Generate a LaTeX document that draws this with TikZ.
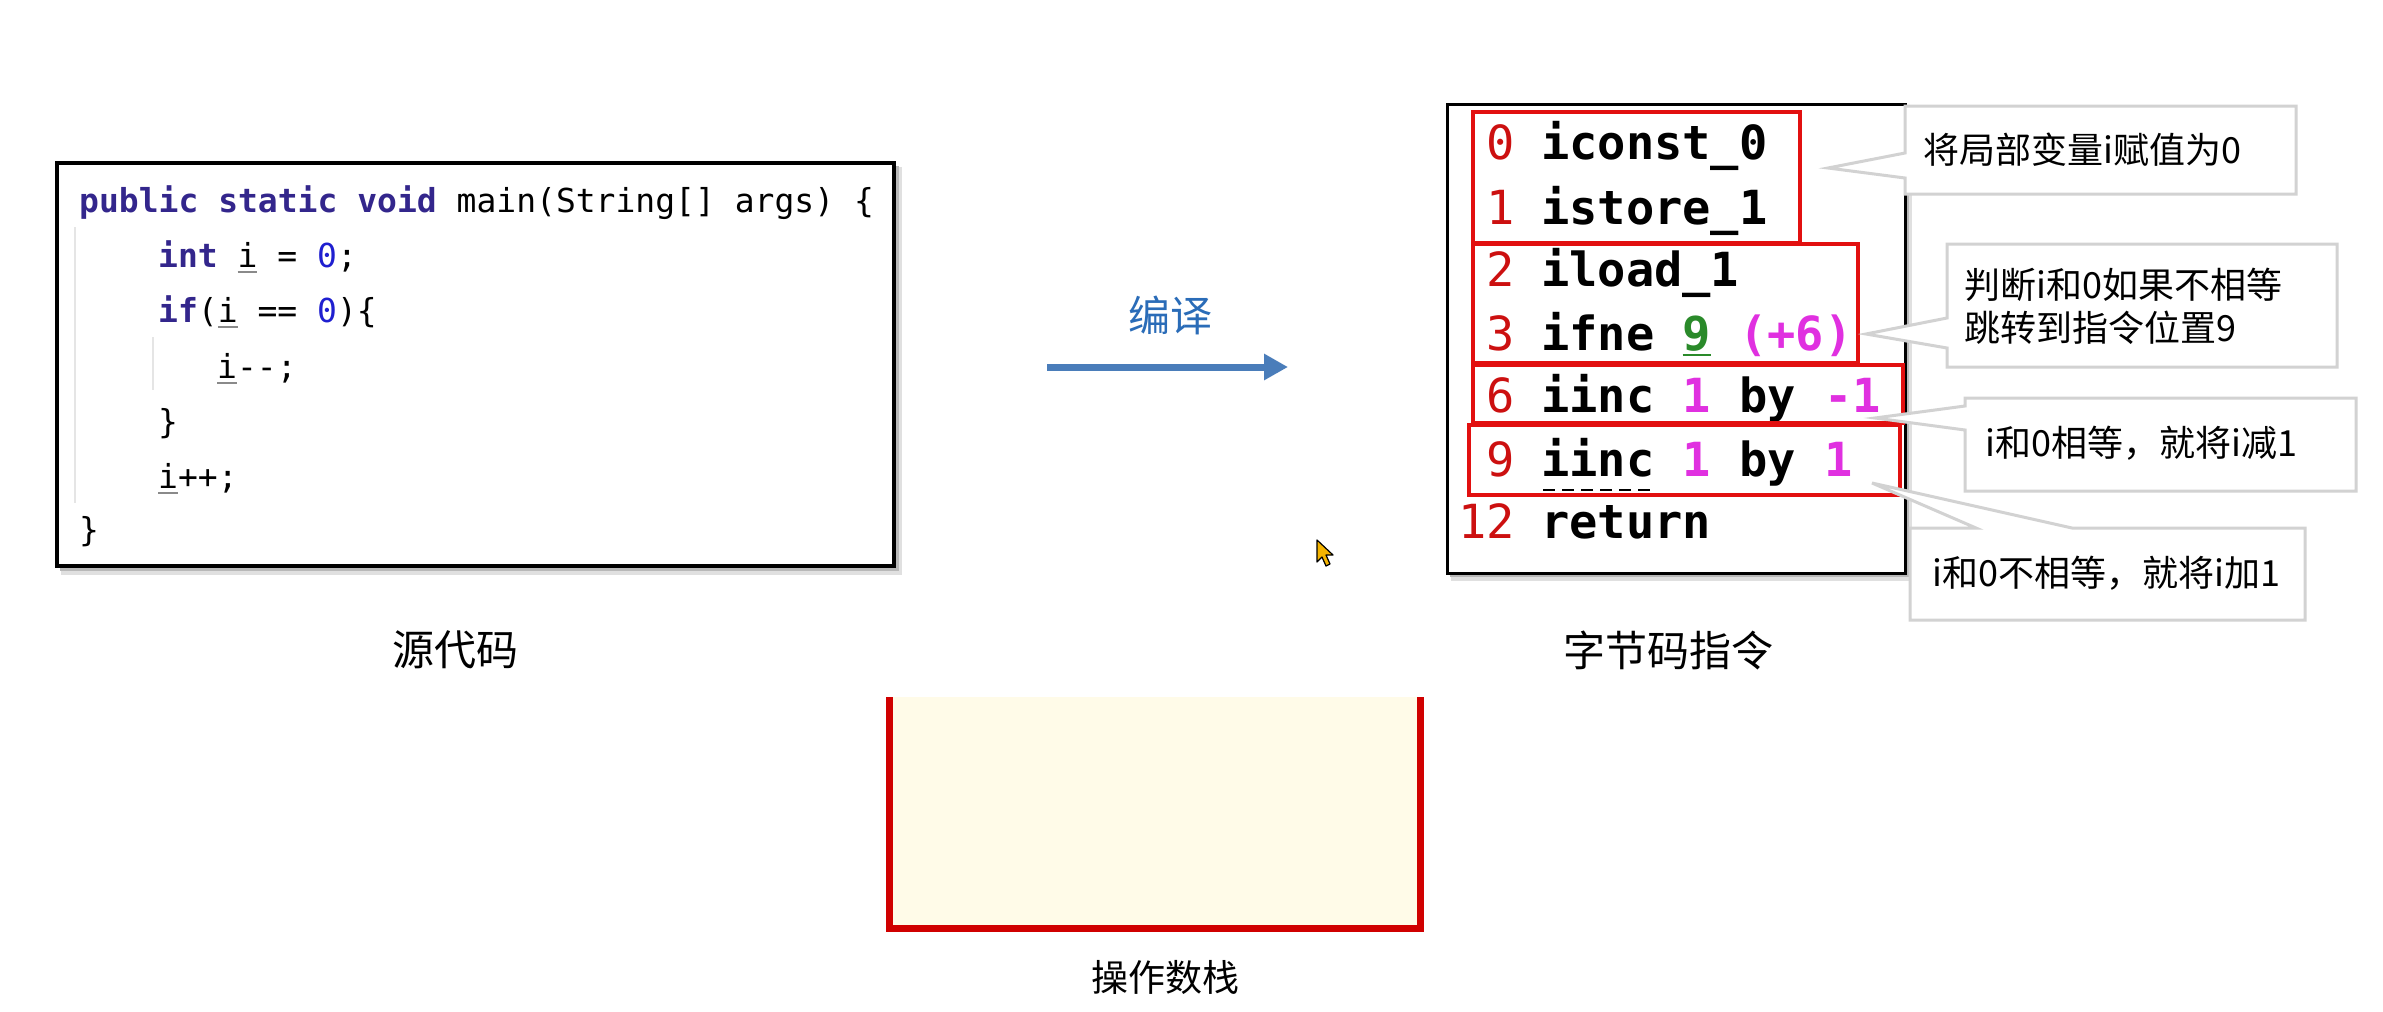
\documentclass[tikz,border=0pt]{standalone}
\usepackage{fontspec}
\setmainfont{Noto Sans CJK SC}
\newfontfamily\codefont{DejaVu Sans Mono}
\usetikzlibrary{arrows.meta}
\definecolor{kw}{HTML}{33268C}
\definecolor{numblue}{HTML}{1F1FD0}
\definecolor{bred}{HTML}{CC1010}
\definecolor{boxred}{HTML}{E21010}
\definecolor{mag}{HTML}{E030E0}
\definecolor{grn}{HTML}{2A8A2A}
\definecolor{callgray}{HTML}{D2D2D2}
\definecolor{arrowblue}{HTML}{4A7DBA}
\definecolor{txtblue}{HTML}{2A6CB8}
\definecolor{stackfill}{HTML}{FFFBE8}
\definecolor{stackred}{HTML}{D00000}
\definecolor{ulgray}{HTML}{8A8A8A}
\definecolor{cursoryellow}{HTML}{F5B400}
\newcommand\iu[1]{\makebox[0pt][l]{\textcolor{ulgray}{\rule[-6pt]{0.6em}{2pt}}}#1}
\newcommand\gu[1]{\makebox[0pt][l]{\textcolor{grn}{\rule[-6pt]{0.6em}{2.5pt}}}#1}
\begin{document}
\begin{tikzpicture}[x=1pt,y=-1pt,
  codeline/.style={anchor=base west, inner sep=0pt, font=\codefont\fontsize{33}{40}\selectfont},
  bcline/.style={anchor=base west, inner sep=0pt, font=\codefont\bfseries\fontsize{47}{56}\selectfont},
  bcnum/.style={anchor=base east, inner sep=0pt, text=bred, font=\codefont\fontsize{47}{56}\selectfont},
  calltext/.style={anchor=west, inner sep=0pt, align=left, font=\fontsize{36}{43}\selectfont},
  biglabel/.style={inner sep=0pt, font=\fontsize{42}{50}\selectfont},
  callout/.style={draw=callgray, line width=3pt, fill=white, line join=miter},
  redbox/.style={draw=boxred, line width=3.5pt},
  framebox/.style={draw=black, line width=3.5pt, fill=white},
  shadowA/.style={fill=black!12, draw=none},
  shadowB/.style={fill=black!28, draw=none},
  guide/.style={draw=black!10, line width=1.5pt}
]
\useasboundingbox (0,0) rectangle (2383,1012);
\fill[white] (0,0) rectangle (2383,1012);

% ---------- source code box ----------
\fill[shadowA] (61,167) rectangle (902,575);
\fill[shadowB] (60,166) rectangle (899,571);
\draw[framebox] (57,163) rectangle (894,566);
\draw[guide] (75,227) -- (75,503);
\draw[guide] (153,337) -- (153,390);
\node[codeline] (c1) at (79,212) {{\bfseries\color{kw}public static void} main(String[] args) \{};
\node[codeline] (c2) at (158,267) {{\bfseries\color{kw}int} \iu{i} = {\color{numblue}0};};
\node[codeline] (c3) at (158,322) {{\bfseries\color{kw}if}(\iu{i} == {\color{numblue}0})\{};
\node[codeline] (c4) at (217,378) {\iu{i}-{}-;};
\node[codeline] (c5) at (158,433) {\}};
\node[codeline] (c6) at (158,488) {\iu{i}++;};
\node[codeline] (c7) at (79,541) {\}};

\node[biglabel] (srclabel) at (455,650) {源代码};

% ---------- compile arrow ----------
\node[biglabel, text=txtblue] (compile) at (1170,315) {编译};
\coordinate (arrS) at (1047,367);
\coordinate (arrE) at (1288,367);
\draw[arrowblue, line width=7pt, -{Triangle[length=24pt,width=25pt]}] (arrS) -- (arrE);

% ---------- bytecode box ----------
\fill[shadowA] (1451,108) rectangle (1912,581);
\fill[shadowB] (1450,107) rectangle (1909,577);
\draw[framebox, line width=3pt] (1447,104) rectangle (1905,573);

\node[bcnum] (n0) at (1515,159) {0};
\node[bcline] (b0) at (1541,159) {iconst\_0};
\node[bcnum] (n1) at (1515,224) {1};
\node[bcline] (b1) at (1541,224) {istore\_1};
\node[bcnum] (n2) at (1515,286) {2};
\node[bcline] (b2) at (1541,286) {iload\_1};
\node[bcnum] (n3) at (1515,350) {3};
\node[bcline] (b3) at (1541,350) {ifne {\color{grn}\gu{9}} {\color{mag}(+6)}};
\node[bcnum] (n6) at (1515,412) {6};
\node[bcline] (b6) at (1541,412) {iinc {\color{mag}1} by {\color{mag}-1}};
\node[bcnum] (n9) at (1515,476) {9};
\node[bcline] (b9) at (1541,476) {iinc {\color{mag}1} by {\color{mag}1}};
\node[bcnum] (n12) at (1515,538) {12};
\node[bcline] (b12) at (1541,538) {return};
\draw[black, line width=2pt, dash pattern=on 12pt off 7pt] (1543,490) -- (1655,490);

\draw[redbox] (1473,112) rectangle (1800,243);
\draw[redbox] (1473,244) rectangle (1858,363);
\draw[redbox] (1473,365) rectangle (1903,423);
\draw[redbox] (1469,425) rectangle (1900,495);

\node[biglabel] (bclabel) at (1668,650) {字节码指令};

% ---------- callouts ----------
\draw[callout] (1905,106) -- (2296,106) -- (2296,194) -- (1905,194) -- (1905,178) -- (1828,168) -- (1905,153) -- cycle;
\node[calltext] (t1) at (1923,150) {将局部变量i赋值为0};

\draw[callout] (1947,244) -- (2337,244) -- (2337,367) -- (1947,367) -- (1947,348) -- (1866,334) -- (1947,318) -- cycle;
\node[calltext] (t2) at (1964,306) {判断i和0如果不相等\\跳转到指令位置9};

\draw[callout] (1965,398) -- (2356,398) -- (2356,491) -- (1965,491) -- (1965,430) -- (1875,418) -- (1965,406) -- cycle;
\node[calltext] (t3) at (1985,443) {i和0相等，就将i减1};

\draw[callout] (1910,528) -- (1976,528) -- (1872,483) -- (2072,528) -- (2305,528) -- (2305,620) -- (1910,620) -- cycle;
\node[calltext] (t4) at (1932,573) {i和0不相等，就将i加1};

% ---------- operand stack ----------
\fill[stackfill] (889,697) rectangle (1420,928);
\draw[stackred, line width=7pt, line join=miter] (889,697) -- (889,928) -- (1420,928) -- (1420,697);
\node[inner sep=0pt, font=\fontsize{37}{44}\selectfont] (stacklabel) at (1165,977) {操作数栈};

% ---------- mouse cursor ----------
\draw[black, line width=1.2pt, fill=cursoryellow, line join=round]
  (1317,540) -- (1317,562) -- (1322,557) -- (1326,566) -- (1330,564) -- (1326,555) -- (1333,555) -- cycle;
\end{tikzpicture}
\end{document}
